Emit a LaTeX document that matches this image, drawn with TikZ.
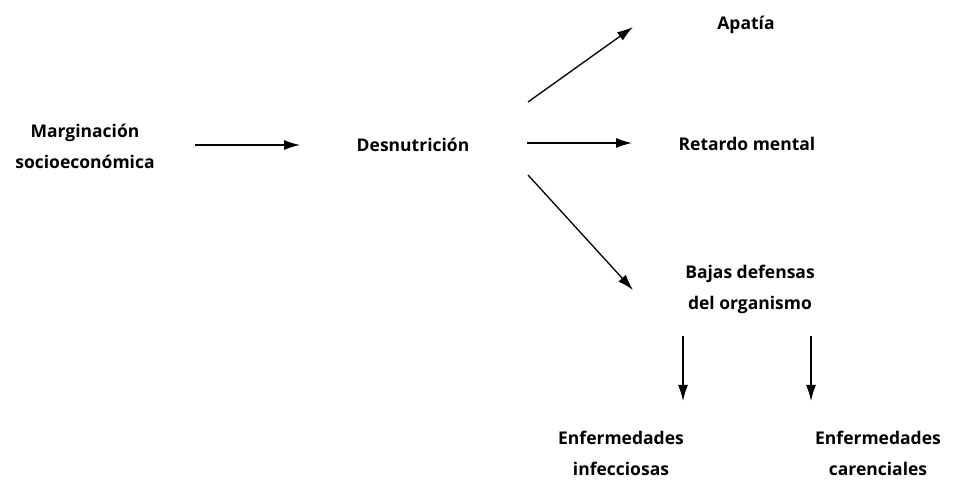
\documentclass[tikz,border=0pt]{standalone}
\usepackage{fontspec}
\setmainfont{Open Sans}
\usetikzlibrary{arrows.meta}
\begin{document}
\begin{tikzpicture}[x=1pt,y=-1pt,
  lbl/.style={font=\bfseries\fontsize{17.5}{31}\selectfont, align=center, inner sep=0pt},
  arr/.style={line width=1.3pt, -{Latex[length=16pt,width=10pt]}}]
\useasboundingbox (0,0) rectangle (975,494);
\node[lbl] (m) at (85,146) {Marginación\\socioeconómica};
\node[lbl] (d) at (413,145) {Desnutrición};
\node[lbl] (a) at (746,25) {Apatía};
\node[lbl] (r) at (747,144) {Retardo mental};
\node[lbl] (b) at (750,289) {Bajas defensas\\del organismo};
\node[lbl] (ei) at (621,453) {Enfermedades\\infecciosas};
\node[lbl] (ec) at (878,453) {Enfermedades\\carenciales};
\coordinate (m1) at (195,145);
\coordinate (d1) at (300,145);
\coordinate (da) at (528,102);
\coordinate (aa) at (633,27);
\coordinate (dr) at (527,143);
\coordinate (rr) at (632,143);
\coordinate (db) at (528,175);
\coordinate (bb) at (633,290);
\coordinate (b1) at (683,336);
\coordinate (i1) at (683,401);
\coordinate (b2) at (811,336);
\coordinate (c2) at (811,401);
\draw[arr] (m1) -- (d1);
\draw[arr] (da) -- (aa);
\draw[arr] (dr) -- (rr);
\draw[arr] (db) -- (bb);
\draw[arr] (b1) -- (i1);
\draw[arr] (b2) -- (c2);
\end{tikzpicture}
\end{document}
